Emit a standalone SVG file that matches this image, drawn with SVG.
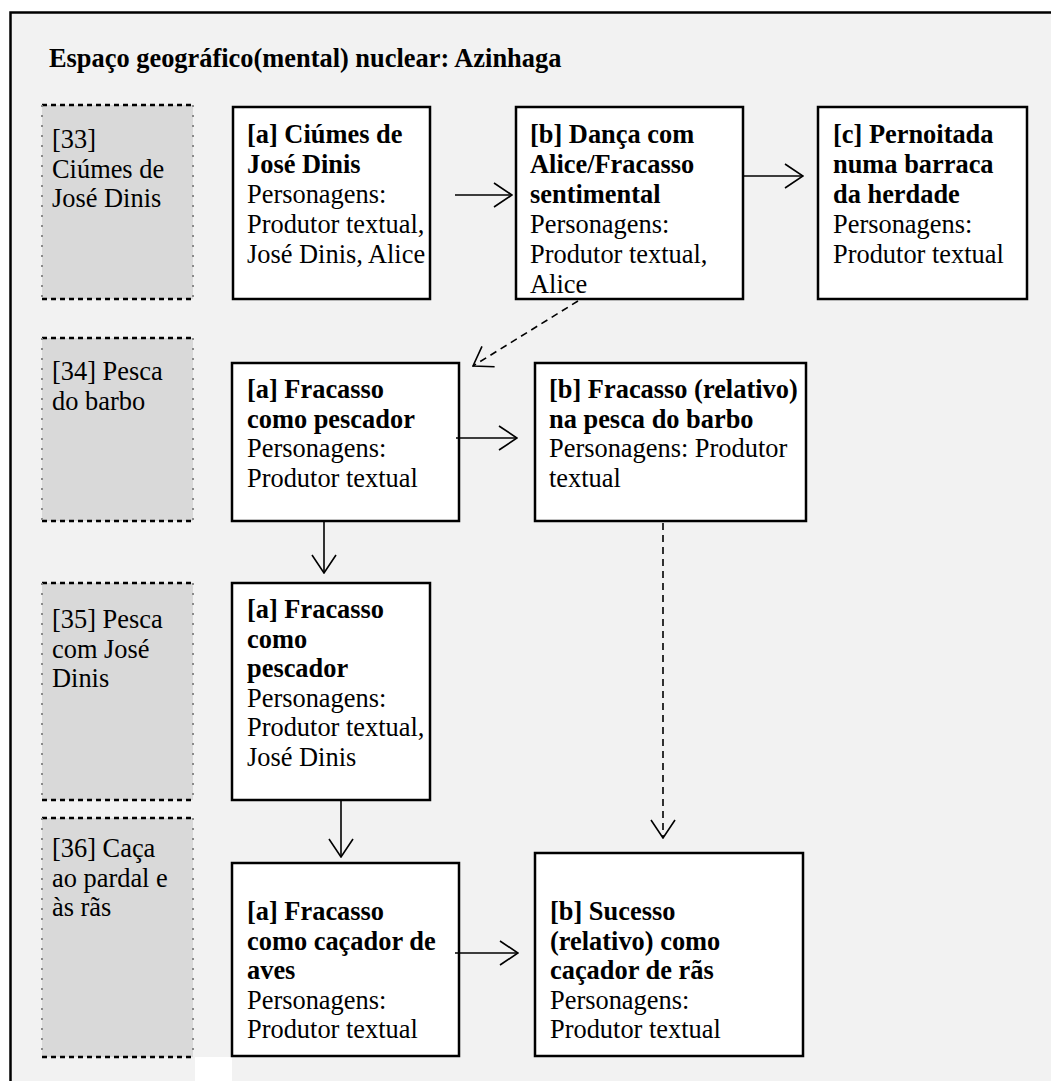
<svg xmlns="http://www.w3.org/2000/svg" width="1051" height="1081" viewBox="0 0 1051 1081">
  <style>
    text { font-family: "Liberation Serif", "Times New Roman", serif; font-size: 26.4px; fill: #000; }
    .b { font-weight: bold; }
    .box { fill: #fff; stroke: #000; stroke-width: 2.5; }
    .grey { fill: #d9d9d9; }
    .edge-h { stroke: #000; stroke-width: 2.5; stroke-dasharray: 5 4; fill: none; }
    .edge-v { stroke: #8a8a8a; stroke-width: 2; stroke-dasharray: 2 8; fill: none; }
    .link { stroke: #000; stroke-width: 1.6; fill: none; marker-end: url(#open); }
    .dash { stroke-dasharray: 7 5; }
  </style>
  <defs>
    <marker id="open" viewBox="0 0 20 26" refX="19" refY="13" markerWidth="20" markerHeight="26" markerUnits="userSpaceOnUse" orient="auto">
      <path d="M1,1 L19,13 L1,25" fill="none" stroke="#000" stroke-width="1.6"/>
    </marker>
  </defs>

  <!-- page and frame -->
  <rect x="0" y="0" width="1051" height="1081" fill="#fff"/>
  <rect x="10.5" y="12.5" width="1100" height="1100" fill="#f2f2f2" stroke="#000" stroke-width="2.5"/>
  <rect x="195" y="1057" width="37" height="24" fill="#fff"/>

  <text id="title" class="b" x="49" y="67">Espaço geográfico(mental) nuclear: Azinhaga</text>

  <!-- chapter labels -->
  <g id="ch33">
    <rect class="grey" x="42" y="105" width="151" height="194"/>
    <path class="edge-h" d="M42,105 H193 M42,299 H193"/>
    <path class="edge-v" d="M42,105 V299 M193,105 V299"/>
    <text x="52" y="148">[33]</text>
    <text x="52" y="177.5">Ciúmes de</text>
    <text x="52" y="207">José Dinis</text>
  </g>
  <g id="ch34">
    <rect class="grey" x="42" y="338" width="151" height="183"/>
    <path class="edge-h" d="M42,338 H193 M42,521 H193"/>
    <path class="edge-v" d="M42,338 V521 M193,338 V521"/>
    <text x="52" y="380">[34] Pesca</text>
    <text x="52" y="409.5">do barbo</text>
  </g>
  <g id="ch35">
    <rect class="grey" x="42" y="583" width="151" height="217"/>
    <path class="edge-h" d="M42,583 H193 M42,800 H193"/>
    <path class="edge-v" d="M42,583 V800 M193,583 V800"/>
    <text x="52" y="628">[35] Pesca</text>
    <text x="52" y="657.5">com José</text>
    <text x="52" y="687">Dinis</text>
  </g>
  <g id="ch36">
    <rect class="grey" x="42" y="818" width="151" height="239"/>
    <path class="edge-h" d="M42,818 H193 M42,1057 H193"/>
    <path class="edge-v" d="M42,818 V1057 M193,818 V1057"/>
    <text x="52" y="857">[36] Caça</text>
    <text x="52" y="886.5">ao pardal e</text>
    <text x="52" y="916">às rãs</text>
  </g>

  <!-- episodes -->
  <g id="n33a">
    <rect class="box" x="233" y="107" width="197" height="192"/>
    <text class="b" x="247" y="143">[a] Ciúmes de</text>
    <text class="b" x="247" y="173">José Dinis</text>
    <text x="247" y="203">Personagens:</text>
    <text x="247" y="233">Produtor textual,</text>
    <text x="247" y="263">José Dinis, Alice</text>
  </g>
  <g id="n33b">
    <rect class="box" x="516" y="107" width="227" height="192"/>
    <text class="b" x="530" y="143">[b] Dança com</text>
    <text class="b" x="530" y="173">Alice/Fracasso</text>
    <text class="b" x="530" y="203">sentimental</text>
    <text x="530" y="233">Personagens:</text>
    <text x="530" y="263">Produtor textual,</text>
    <text x="530" y="293">Alice</text>
  </g>
  <g id="n33c">
    <rect class="box" x="818" y="107" width="209" height="192"/>
    <text class="b" x="833" y="143">[c] Pernoitada</text>
    <text class="b" x="833" y="173">numa barraca</text>
    <text class="b" x="833" y="203">da herdade</text>
    <text x="833" y="233">Personagens:</text>
    <text x="833" y="263">Produtor textual</text>
  </g>
  <g id="n34a">
    <rect class="box" x="232" y="363" width="227" height="158"/>
    <text class="b" x="247" y="398">[a] Fracasso</text>
    <text class="b" x="247" y="427.5">como pescador</text>
    <text x="247" y="457">Personagens:</text>
    <text x="247" y="486.5">Produtor textual</text>
  </g>
  <g id="n34b">
    <rect class="box" x="535" y="363" width="271" height="158"/>
    <text class="b" x="549" y="398">[b] Fracasso (relativo)</text>
    <text class="b" x="549" y="427.5">na pesca do barbo</text>
    <text x="549" y="457">Personagens: Produtor</text>
    <text x="549" y="486.5">textual</text>
  </g>
  <g id="n35a">
    <rect class="box" x="232" y="583" width="198" height="217"/>
    <text class="b" x="247" y="618">[a] Fracasso</text>
    <text class="b" x="247" y="647.5">como</text>
    <text class="b" x="247" y="677">pescador</text>
    <text x="247" y="706.5">Personagens:</text>
    <text x="247" y="736">Produtor textual,</text>
    <text x="247" y="765.5">José Dinis</text>
  </g>
  <g id="n36a">
    <rect class="box" x="232" y="863" width="227" height="193"/>
    <text class="b" x="247" y="920">[a] Fracasso</text>
    <text class="b" x="247" y="949.5">como caçador de</text>
    <text class="b" x="247" y="979">aves</text>
    <text x="247" y="1008.5">Personagens:</text>
    <text x="247" y="1038">Produtor textual</text>
  </g>
  <g id="n36b">
    <rect class="box" x="535" y="853" width="268" height="203"/>
    <text class="b" x="550" y="920">[b] Sucesso</text>
    <text class="b" x="550" y="949.5">(relativo) como</text>
    <text class="b" x="550" y="979">caçador de rãs</text>
    <text x="550" y="1008.5">Personagens:</text>
    <text x="550" y="1038">Produtor textual</text>
  </g>

  <!-- connectors -->
  <g id="connectors">
    <path class="link" d="M455,195 H512"/>
    <path class="link" d="M743,176 H803"/>
    <path class="link dash" d="M578,301 L473,366"/>
    <path class="link" d="M456,438 H517"/>
    <path class="link" d="M324,521 V573"/>
    <path class="link dash" d="M663,523 V838"/>
    <path class="link" d="M341,800 V857"/>
    <path class="link" d="M455,953 H518"/>
  </g>
</svg>
